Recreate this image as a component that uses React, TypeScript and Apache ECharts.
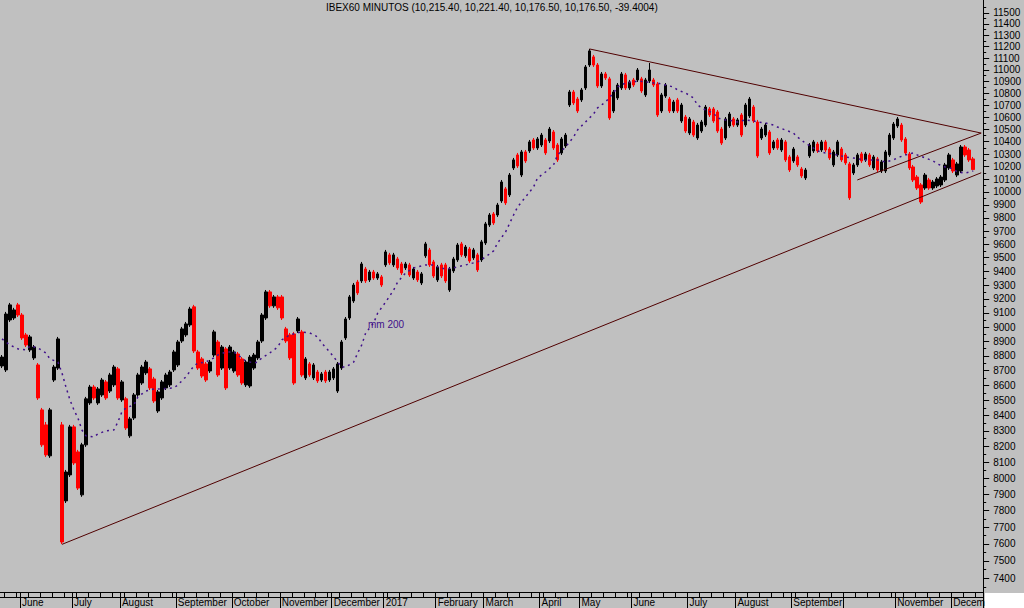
import React, { useEffect, useRef } from "react";
import * as echarts from "echarts";

// ---- data (one candle per ~1.2 trading days of 60-minute bars) ----
const opens = [
  8731, 8704, 9050, 9064, 9157, 9085, 8945, 8841, 8786, 8738, 8437, 8339, 8140, 8636, 8717, 8339, 7859, 8020, 8326, 8165,
  7896, 8210, 8483, 8589, 8483, 8536, 8623, 8562, 8603, 8711, 8503, 8510, 8268, 8384, 8536, 8616, 8684, 8711, 8643, 8430,
  8516, 8583, 8603, 8704, 8738, 8903, 8945, 9015, 9143, 8827, 8779, 8745, 8697, 8806, 8896, 8717, 8848, 8717, 8697, 8813,
  8779, 8603, 8596, 8717, 8786, 8903, 9064, 9250, 9150, 9214, 9214, 8987, 8945, 8952, 8973, 8966, 8650, 8745, 8650, 8690,
  8636, 8690, 8636, 8650, 8562, 8717, 8924, 9064, 9185, 9322, 9330, 9417, 9337, 9395, 9351, 9359, 9447, 9521, 9447, 9491,
  9454, 9425, 9447, 9351, 9395, 9315, 9514, 9558, 9469, 9337, 9447, 9447, 9264, 9403, 9484, 9603, 9514, 9565, 9499, 9521,
  9484, 9610, 9746, 9830, 9822, 9930, 10024, 9977, 10189, 10293, 10133, 10317, 10325, 10414, 10349, 10373, 10414, 10406, 10479, 10373,
  10309, 10365, 10702, 10811, 10752, 10744, 10845, 11041, 11111, 11041, 10862, 10964, 10922, 10652, 10761, 10845, 10956, 10845, 10913, 10913,
  10922, 10786, 10904, 10913, 10879, 10652, 10777, 10752, 10652, 10744, 10569, 10602, 10471, 10561, 10430, 10487, 10536, 10669, 10669, 10644,
  10503, 10430, 10528, 10586, 10536, 10619, 10536, 10611, 10685, 10561, 10430, 10454, 10479, 10349, 10414, 10333, 10398, 10277, 10245, 10277,
  10181, 10110, 10285, 10325, 10381, 10333, 10398, 10341, 10213, 10293, 10341, 10293, 10221, 10149, 10213, 10301, 10253, 10293, 10189, 10261,
  10165, 10165, 10293, 10430, 10528, 10536, 10422, 10301, 10197, 10117, 10055, 10031, 10094, 10031, 10047, 10055, 10094, 10189, 10253, 10133,
  10165, 10357, 10333, 10261,
];
const closes = [
  8792, 9092, 9157, 9121, 9085, 8924, 8875, 8931, 8861, 8516, 8210, 8146, 8437, 8724, 8917, 7611, 8038, 8326, 8095, 7938,
  8210, 8510, 8589, 8516, 8576, 8636, 8516, 8670, 8724, 8516, 8623, 8319, 8378, 8536, 8670, 8724, 8758, 8583, 8496, 8556,
  8623, 8670, 8690, 8827, 8896, 8987, 9022, 9128, 8834, 8717, 8663, 8636, 8758, 8966, 8670, 8861, 8583, 8861, 8827, 8670,
  8616, 8758, 8792, 8806, 8896, 9085, 9250, 9150, 9214, 9136, 9064, 8903, 8786, 8616, 9057, 8670, 8779, 8670, 8738, 8630,
  8677, 8630, 8690, 8711, 8745, 8896, 9057, 9214, 9300, 9243, 9454, 9330, 9395, 9351, 9381, 9300, 9543, 9462, 9521, 9425,
  9388, 9454, 9373, 9417, 9337, 9381, 9603, 9447, 9366, 9432, 9366, 9330, 9417, 9491, 9595, 9521, 9580, 9476, 9558, 9410,
  9618, 9754, 9822, 9761, 9899, 10078, 9915, 10133, 10253, 10205, 10317, 10245, 10398, 10349, 10422, 10454, 10309, 10503, 10349, 10253,
  10422, 10454, 10811, 10719, 10652, 10828, 11024, 11163, 11041, 10862, 10964, 10930, 10594, 10811, 10870, 10964, 10845, 10896, 10870, 10998,
  10820, 10913, 10998, 10870, 10619, 10786, 10870, 10652, 10727, 10652, 10702, 10487, 10586, 10454, 10536, 10561, 10685, 10619, 10569, 10487,
  10389, 10586, 10627, 10536, 10578, 10454, 10702, 10752, 10569, 10285, 10503, 10536, 10309, 10398, 10349, 10414, 10253, 10173, 10341, 10213,
  10126, 10173, 10373, 10398, 10325, 10398, 10333, 10269, 10317, 10398, 10253, 10229, 9954, 10213, 10293, 10245, 10301, 10213, 10277, 10173,
  10237, 10317, 10454, 10544, 10586, 10414, 10309, 10189, 10094, 10031, 9922, 10133, 10031, 10078, 10102, 10117, 10213, 10293, 10165, 10221,
  10357, 10293, 10253, 10176,
];
const lows = [
  8717, 8690, 9036, 9050, 9071, 8910, 8861, 8827, 8772, 8503, 8197, 8133, 8127, 8623, 8704, 7599, 7846, 8007, 8082, 7926,
  7884, 8197, 8470, 8503, 8470, 8523, 8503, 8549, 8589, 8503, 8490, 8306, 8255, 8371, 8523, 8603, 8670, 8569, 8483, 8417,
  8503, 8569, 8589, 8690, 8724, 8889, 8931, 9001, 8820, 8704, 8650, 8623, 8684, 8792, 8657, 8704, 8569, 8704, 8684, 8657,
  8603, 8589, 8583, 8704, 8772, 8889, 9050, 9136, 9136, 9121, 9050, 8889, 8772, 8603, 8959, 8657, 8636, 8657, 8636, 8616,
  8623, 8616, 8623, 8636, 8549, 8704, 8910, 9050, 9171, 9228, 9315, 9315, 9322, 9337, 9337, 9286, 9432, 9447, 9432, 9410,
  9373, 9410, 9359, 9337, 9322, 9300, 9499, 9432, 9351, 9322, 9351, 9315, 9250, 9388, 9469, 9506, 9499, 9462, 9484, 9395,
  9469, 9595, 9731, 9746, 9807, 9915, 9899, 9961, 10173, 10189, 10117, 10229, 10309, 10333, 10333, 10357, 10293, 10389, 10333, 10237,
  10293, 10349, 10685, 10702, 10635, 10727, 10828, 11024, 11024, 10845, 10845, 10913, 10578, 10635, 10744, 10828, 10828, 10828, 10853, 10896,
  10803, 10769, 10887, 10853, 10602, 10635, 10761, 10635, 10635, 10635, 10553, 10471, 10454, 10438, 10414, 10471, 10520, 10602, 10553, 10471,
  10373, 10414, 10512, 10520, 10520, 10438, 10520, 10594, 10553, 10269, 10414, 10438, 10293, 10333, 10333, 10317, 10237, 10157, 10229, 10197,
  10110, 10094, 10269, 10309, 10309, 10317, 10317, 10253, 10197, 10277, 10237, 10213, 9938, 10133, 10197, 10229, 10237, 10197, 10173, 10157,
  10149, 10149, 10277, 10414, 10512, 10398, 10293, 10173, 10078, 10016, 9907, 10016, 10016, 10016, 10031, 10039, 10078, 10173, 10149, 10117,
  10149, 10277, 10237, 10176,
];
const highs = [
  8806, 9107, 9171, 9136, 9171, 9099, 8959, 8945, 8875, 8751, 8450, 8358, 8450, 8738, 8931, 8358, 8051, 8339, 8339, 8178,
  8223, 8523, 8603, 8603, 8589, 8650, 8636, 8684, 8738, 8724, 8636, 8523, 8391, 8549, 8684, 8738, 8772, 8724, 8657, 8569,
  8636, 8684, 8704, 8841, 8910, 9001, 9036, 9143, 9157, 8841, 8792, 8758, 8772, 8980, 8910, 8875, 8861, 8875, 8841, 8827,
  8792, 8772, 8806, 8820, 8910, 9099, 9264, 9264, 9228, 9228, 9228, 9001, 8959, 8966, 9071, 8980, 8792, 8758, 8751, 8704,
  8690, 8704, 8704, 8724, 8758, 8910, 9071, 9228, 9315, 9337, 9469, 9432, 9410, 9410, 9395, 9373, 9558, 9536, 9536, 9506,
  9469, 9469, 9462, 9432, 9410, 9395, 9618, 9573, 9484, 9447, 9462, 9462, 9432, 9506, 9610, 9618, 9595, 9580, 9573, 9536,
  9633, 9769, 9837, 9845, 9915, 10094, 10039, 10149, 10269, 10309, 10333, 10333, 10414, 10430, 10438, 10471, 10430, 10520, 10495, 10389,
  10438, 10471, 10828, 10828, 10769, 10845, 11041, 11180, 11128, 11058, 10981, 10981, 10939, 10828, 10887, 10981, 10973, 10913, 10930, 11015,
  10939, 10930, 11058, 10930, 10896, 10803, 10887, 10769, 10744, 10761, 10719, 10619, 10602, 10578, 10553, 10578, 10702, 10685, 10685, 10660,
  10520, 10602, 10644, 10602, 10594, 10635, 10719, 10769, 10702, 10578, 10520, 10553, 10495, 10414, 10430, 10430, 10414, 10293, 10357, 10293,
  10197, 10189, 10389, 10414, 10398, 10414, 10414, 10357, 10333, 10414, 10357, 10309, 10237, 10229, 10309, 10317, 10317, 10309, 10293, 10277,
  10253, 10333, 10471, 10561, 10602, 10553, 10438, 10317, 10213, 10133, 10070, 10149, 10110, 10094, 10117, 10133, 10229, 10309, 10269, 10237,
  10373, 10373, 10349, 10277,
];
const emptySlots = 2;

// mm 200 moving average (read points: slot index, value)
const maIdx = [
  0, 2, 4, 6, 7, 9, 11, 12, 14, 15, 16, 17, 18, 19, 20, 21, 23, 24, 26, 28, 29, 30, 31, 33, 34, 36, 38, 40, 43, 44, 46, 48, 49, 51,
  53, 54, 56, 58, 59, 61, 63, 64, 65, 67, 69, 70, 72, 74, 75, 77, 79, 80, 82, 84, 85, 86, 88, 89, 90, 91, 93, 94, 96, 98, 99, 101,
  103, 104, 106, 108, 109, 111, 113, 114, 116, 118, 119, 121, 123, 124, 126, 128, 129, 131, 133, 134, 136, 138, 139, 141, 143, 144,
  146, 148, 149, 151, 153, 154, 156, 158, 159, 161, 163, 164, 166, 168, 169, 171, 173, 174, 176, 178, 179, 181, 183, 184, 186, 188,
  189, 191, 193, 194, 196, 198, 199, 201, 203, 204, 206, 208, 209, 211, 213, 214, 216, 218, 219, 221, 223, 224, 226, 228, 229, 231,
  233, 234, 236, 238, 239, 241, 243,
];
const maVal = [
  8917, 8875, 8848, 8841, 8868, 8855, 8820, 8779, 8758, 8684, 8589, 8503, 8437, 8384, 8306, 8268, 8261, 8281, 8300, 8306, 8358, 8424,
  8450, 8470, 8523, 8562, 8576, 8576, 8583, 8603, 8657, 8731, 8751, 8758, 8786, 8806, 8827, 8827, 8806, 8765, 8751, 8758, 8786, 8820,
  8861, 8910, 8945, 8959, 8966, 8959, 8931, 8889, 8827, 8758, 8724, 8724, 8758, 8820, 8875, 8959, 9029, 9099, 9178, 9264, 9322, 9388,
  9425, 9432, 9447, 9447, 9432, 9417, 9425, 9432, 9447, 9462, 9469, 9506, 9551, 9610, 9693, 9822, 9884, 9961, 10039, 10110, 10157,
  10213, 10293, 10357, 10438, 10495, 10561, 10627, 10677, 10727, 10803, 10853, 10887, 10896, 10904, 10896, 10887, 10887, 10870, 10853,
  10828, 10803, 10761, 10702, 10660, 10635, 10594, 10578, 10569, 10561, 10578, 10569, 10561, 10553, 10536, 10520, 10495, 10471, 10438,
  10389, 10349, 10325, 10309, 10301, 10293, 10277, 10269, 10261, 10253, 10253, 10253, 10237, 10253, 10269, 10293, 10309, 10293, 10269,
  10245, 10221, 10197, 10181, 10157, 10149, 10165,
];

// trend lines (slot index, value)
const resistanceLine = [[147, 11180], [245, 10470]];
const supportLine = [[15, 7597], [245, 10151]];
const channelLine = [[214, 10094], [245, 10470]];

// axes
const monthStarts = [5, 18, 30, 44, 58, 70, 83, 96, 109, 121, 135, 145, 158, 172, 184, 198, 211, 224, 238];
const monthNames = [
  "June", "July", "August", "September", "October", "November", "December", "2017", "February", "March",
  "April", "May", "June", "July", "August", "September", "", "November", "December",
];
const yTickLabels = [
  7400, 7500, 7600, 7700, 7800, 7900, 8000, 8100, 8200, 8300, 8400, 8500, 8600, 8700, 8800, 8900, 9000, 9100, 9200, 9300, 9400,
  9500, 9600, 9700, 9800, 9900, 10000, 10100, 10200, 10300, 10400, 10500, 10600, 10700, 10800, 10900, 11000, 11100, 11200, 11300,
  11400, 11500,
];
const yMinorTicks = [
  7350, 7450, 7550, 7650, 7750, 7850, 7950, 8050, 8150, 8250, 8350, 8450, 8550, 8650, 8750, 8850, 8950, 9050, 9150, 9250, 9350,
  9450, 9550, 9650, 9750, 9850, 9950, 10050, 10150, 10250, 10350, 10450, 10550, 10650, 10750, 10850, 10950, 11050, 11150, 11250,
  11350, 11450, 11550,
];
const yMin = 7320;
const yMax = 11615;
const titleText = "IBEX60 MINUTOS (10,215.40, 10,221.40, 10,176.50, 10,176.50, -39.4004)";

const FONT = '"Liberation Sans", Arial, sans-serif';

export default function App() {
  const ref = useRef<HTMLDivElement>(null);

  useEffect(() => {
    if (!ref.current) return;
    const chart = echarts.init(ref.current, null, { renderer: "svg" });
    const n = opens.length + emptySlots;
    const slots = Array.from({ length: n }, (_, i) => String(i));
    const labelAt: Record<number, string> = {};
    monthStarts.forEach((s, k) => (labelAt[s] = monthNames[k]));
    const candles = opens.map((o, i) => [o, closes[i], lows[i], highs[i]]);
    const ma = maIdx.map((i, k) => [i, maVal[k]]);

    const baseX = {
      type: "category" as const,
      data: slots,
      boundaryGap: true,
      position: "bottom" as const,
      splitLine: { show: false },
    };

    const option: any = {
      animation: false,
      backgroundColor: "#c0c0c0",
      title: {
        text: titleText,
        left: 326,
        top: 2,
        padding: 0,
        textStyle: { fontSize: 10, fontWeight: "normal", color: "#000", fontFamily: FONT },
      },
      grid: { left: 0, right: 40, top: 0, bottom: 16, containLabel: false },
      xAxis: [
        {
          ...baseX,
          axisLine: { show: true, lineStyle: { color: "#000", width: 1 } },
          axisTick: { show: true, length: 5, interval: (i: number) => i % 3 === 1, lineStyle: { color: "#000" } },
          axisLabel: { show: false },
        },
        {
          ...baseX,
          offset: 5,
          axisLine: { show: true, lineStyle: { color: "#000", width: 1 } },
          axisTick: { show: false },
          axisLabel: { show: false },
        },
        {
          ...baseX,
          axisLine: { show: false },
          axisTick: {
            show: true,
            length: 16,
            interval: (i: number) => labelAt[i] !== undefined,
            lineStyle: { color: "#000" },
          },
          axisLabel: {
            show: true,
            interval: (i: number) => labelAt[i] !== undefined && labelAt[i] !== "",
            formatter: (_v: string, i: number) => labelAt[i] || "",
            align: "left",
            margin: 5,
            color: "#000",
            fontSize: 10,
            fontFamily: FONT,
          },
        },
      ],
      yAxis: [
        {
          type: "log",
          logBase: 10,
          min: yMin,
          max: yMax,
          position: "right",
          axisLine: { show: true, lineStyle: { color: "#000", width: 1 } },
          axisTick: { show: true, length: 6, customValues: yTickLabels, lineStyle: { color: "#000" } },
          axisLabel: {
            show: true,
            customValues: yTickLabels,
            formatter: (v: number) => String(Math.round(v)),
            margin: 10,
            color: "#000",
            fontSize: 10,
            fontFamily: '"Liberation Sans Narrow", "Liberation Sans", Arial, sans-serif',
          },
          splitLine: { show: false },
        },
        {
          type: "log",
          logBase: 10,
          min: yMin,
          max: yMax,
          position: "right",
          axisLine: { show: false },
          axisTick: { show: true, length: 3, customValues: yMinorTicks, lineStyle: { color: "#000" } },
          axisLabel: { show: false },
          splitLine: { show: false },
        },
      ],
      series: [
        {
          type: "candlestick",
          xAxisIndex: 0,
          yAxisIndex: 0,
          data: candles,
          barWidth: 3,
          itemStyle: {
            color: "#000000",
            color0: "#ff0000",
            borderColor: "#000000",
            borderColor0: "#ff0000",
            borderWidth: 1,
          },
          silent: true,
        },
        {
          type: "line",
          xAxisIndex: 0,
          yAxisIndex: 0,
          data: ma,
          symbol: "none",
          lineStyle: { color: "#40108a", width: 1.5, type: [2, 4] },
          silent: true,
          z: 3,
        },
        ...[resistanceLine, supportLine, channelLine].map((d) => ({
          type: "line",
          xAxisIndex: 0,
          yAxisIndex: 0,
          data: d,
          symbol: "none",
          lineStyle: { color: "#500000", width: 1 },
          silent: true,
          z: 4,
        })),
      ],
      graphic: [
        {
          type: "text",
          left: 368,
          top: 319,
          style: { text: "mm 200", fill: "#40108a", font: `10px ${FONT}` },
          z: 10,
        },
        {
          type: "rect",
          left: 985,
          top: 593,
          shape: { width: 39, height: 15 },
          style: { fill: "#ffffff" },
          z: 100,
        },
      ],
    };

    chart.setOption(option);
    return () => chart.dispose();
  }, []);

  return (
    <div
      ref={ref}
      style={{ position: "fixed", left: 0, top: 0, width: 1024, height: 608, background: "#c0c0c0" }}
    />
  );
}
